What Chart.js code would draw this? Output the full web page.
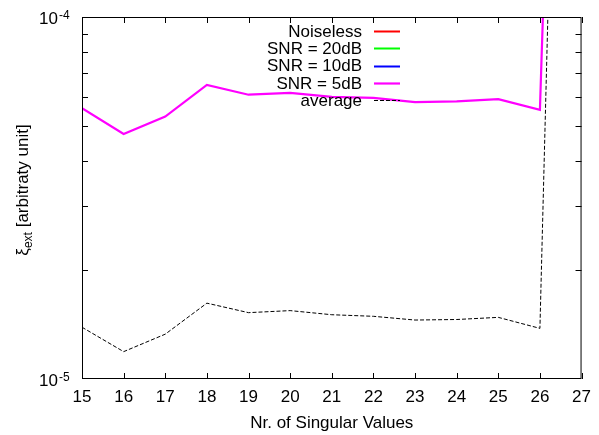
<!DOCTYPE html>
<html>
<head>
<meta charset="utf-8">
<title>xi_ext vs singular values</title>
<script src="https://cdn.jsdelivr.net/npm/chart.js@4/dist/chart.umd.min.js"></script>
<style>
  body { margin: 0; background: #fff; }
  #wrap { width: 599px; height: 435px; }
</style>
</head>
<body>
<div id="wrap"><canvas id="myChart" width="599" height="435"></canvas></div>
<script>
// number of singular values kept
var nrSV = [15, 16, 17, 18, 19, 20, 21, 22, 23, 24, 25, 26, 27];

// xi_ext per case (noiseless / 20dB / 10dB stay below the plotted range)
var noiseless = [];
var snr20 = [];
var snr10 = [];
var snr5 = [5.60e-5, 4.75e-5, 5.31e-5, 6.49e-5, 6.10e-5, 6.17e-5, 6.02e-5, 5.98e-5, 5.82e-5, 5.85e-5, 5.93e-5, 5.54e-5, 2.2e-1];
var average = [1.39e-5, 1.19e-5, 1.33e-5, 1.62e-5, 1.525e-5, 1.545e-5, 1.505e-5, 1.49e-5, 1.455e-5, 1.46e-5, 1.48e-5, 1.38e-5, 4.5e-1];

var yMajor = [1e-5, 1e-4];
var yMinor = [2e-5, 3e-5, 4e-5, 5e-5, 6e-5, 7e-5, 8e-5, 9e-5];

var FONT = '"Liberation Sans", Helvetica, Arial, sans-serif';

function pts(vals) {
    return vals.map(function (v, i) { return { x: nrSV[i], y: v }; });
}

// gnuplot-like frame, inward ticks, y labels and the y title
var framePlugin = {
    id: 'frame',
    beforeDraw: function (chart) {
        var c = chart.ctx;
        c.save();
        c.fillStyle = '#fff';
        c.fillRect(0, 0, chart.width, chart.height);
        c.restore();
    },
    afterDatasetsDraw: function (chart) {
        var c = chart.ctx, a = chart.chartArea;
        var xs = chart.scales.x, ys = chart.scales.y;
        c.save();
        c.strokeStyle = '#000';
        c.lineWidth = 1;
        c.strokeRect(a.left + 0.5, a.top + 0.5, a.right - a.left - 1, a.bottom - a.top - 1);

        c.beginPath();
        nrSV.forEach(function (v) {
            var px = Math.round(xs.getPixelForValue(v)) + 0.5;
            c.moveTo(px, a.bottom); c.lineTo(px, a.bottom - 6);
            c.moveTo(px, a.top); c.lineTo(px, a.top + 6);
        });
        yMinor.forEach(function (v) {
            var py = Math.round(ys.getPixelForValue(v)) + 0.5;
            c.moveTo(a.left, py); c.lineTo(a.left + 6, py);
            c.moveTo(a.right, py); c.lineTo(a.right - 6, py);
        });
        c.stroke();

        // 10^n labels
        c.fillStyle = '#000';
        c.textBaseline = 'alphabetic';
        yMajor.forEach(function (v) {
            var py = ys.getPixelForValue(v);
            var exp = Math.round(Math.log10(v));
            c.font = '17px ' + FONT;
            c.textAlign = 'right';
            c.fillText('10', 58, py + 7);
            c.font = '12px ' + FONT;
            c.textAlign = 'left';
            c.fillText(String(exp), 59, py + 2);
        });

        // y title: xi with "ext" subscript, rotated
        c.translate(28, 190);
        c.rotate(-Math.PI / 2);
        c.font = '17px ' + FONT;
        var w1 = c.measureText('\u03be').width;
        c.font = '12px ' + FONT;
        var w2 = c.measureText('ext').width;
        c.font = '17px ' + FONT;
        var w3 = c.measureText(' [arbitraty unit]').width;
        var x0 = -(w1 + w2 + w3) / 2;
        c.textAlign = 'left';
        c.fillText('\u03be', x0, 0);
        c.font = '12px ' + FONT;
        c.fillText('ext', x0 + w1, 4);
        c.font = '17px ' + FONT;
        c.fillText(' [arbitraty unit]', x0 + w1 + w2, 0);
        c.restore();
    }
};

// key in the top middle: text right-aligned, sample line to the right
var keyPlugin = {
    id: 'key',
    afterDraw: function (chart) {
        var c = chart.ctx;
        c.save();
        c.font = '17px ' + FONT;
        c.textAlign = 'right';
        c.textBaseline = 'middle';
        chart.data.datasets.forEach(function (ds, i) {
            var y = 31 + i * 17.3;
            c.fillStyle = '#000';
            c.fillText(ds.label, 362, y + 1);
            c.strokeStyle = ds.borderColor;
            c.lineWidth = ds.borderWidth;
            c.setLineDash(ds.borderDash || []);
            c.beginPath();
            c.moveTo(374, Math.round(y) + 0.5);
            c.lineTo(400, Math.round(y) + 0.5);
            c.stroke();
        });
        c.restore();
    }
};

var ctx = document.getElementById('myChart').getContext('2d');
var myChart = new Chart(ctx, {
    type: 'line',
    data: {
        datasets: [
            { label: 'Noiseless', data: pts(noiseless), borderColor: '#ff0000', borderWidth: 2 },
            { label: 'SNR = 20dB', data: pts(snr20), borderColor: '#00ff00', borderWidth: 2 },
            { label: 'SNR = 10dB', data: pts(snr10), borderColor: '#0000ff', borderWidth: 2 },
            { label: 'SNR = 5dB', data: pts(snr5), borderColor: '#ff00ff', borderWidth: 2.2 },
            { label: 'average', data: pts(average), borderColor: '#000000', borderWidth: 1, borderDash: [4, 2] }
        ]
    },
    options: {
        responsive: false,
        animation: false,
        layout: { padding: { left: 82, right: 12, top: 17, bottom: 0 } },
        elements: {
            point: { radius: 0, hoverRadius: 0 },
            line: { tension: 0, fill: false }
        },
        datasets: { line: { clip: 0 } },
        scales: {
            x: {
                type: 'linear',
                min: 15,
                max: 27,
                grid: { display: false, drawTicks: false },
                border: { display: false },
                ticks: {
                    stepSize: 1,
                    color: '#000',
                    padding: 8,
                    font: { family: FONT, size: 17 }
                },
                title: {
                    display: true,
                    text: 'Nr. of Singular Values',
                    color: '#000',
                    padding: { top: 0, bottom: 1 },
                    font: { family: FONT, size: 17 }
                },
                afterFit: function (scale) { scale.height = 56; }
            },
            y: {
                type: 'logarithmic',
                min: 1e-5,
                max: 1e-4,
                display: false
            }
        },
        plugins: {
            legend: { display: false },
            tooltip: { enabled: false }
        }
    },
    plugins: [framePlugin, keyPlugin]
});
</script>
</body>
</html>
